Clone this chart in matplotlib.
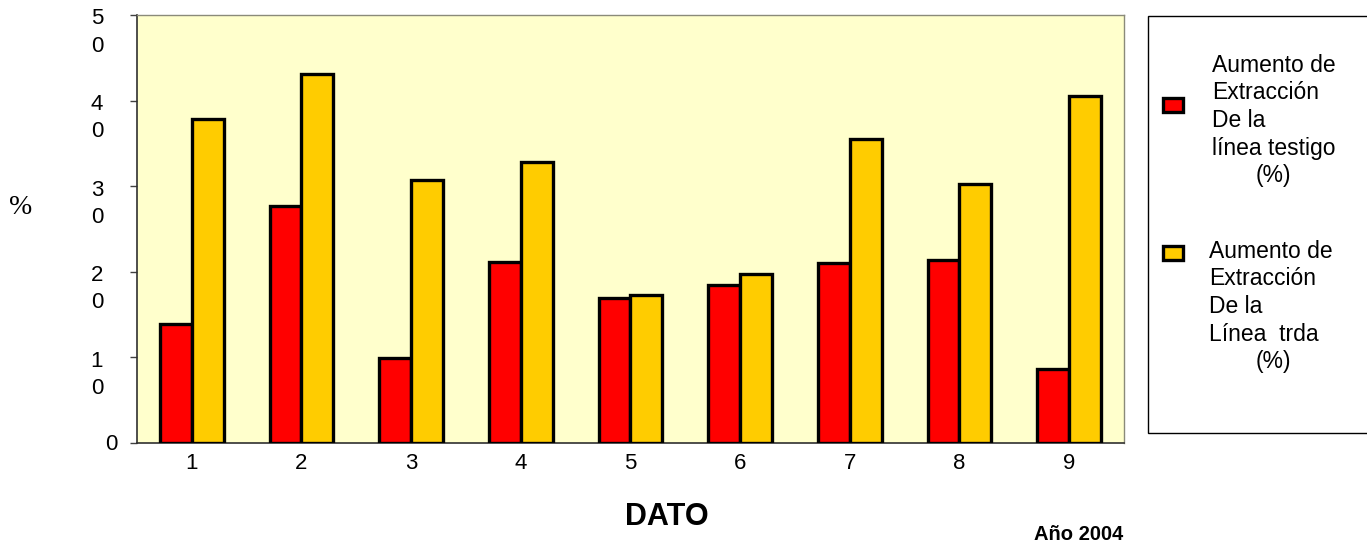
import matplotlib
matplotlib.use('Agg')
import matplotlib.pyplot as plt
from matplotlib.patches import Rectangle
from matplotlib.transforms import offset_copy

plt.rcParams['font.family'] = ['Liberation Sans', 'DejaVu Sans']

# data
datos = [1, 2, 3, 4, 5, 6, 7, 8, 9]
testigo = [13.9, 27.7, 9.9, 21.1, 16.9, 18.4, 21.0, 21.4, 8.7]
trda = [37.8, 43.1, 30.7, 32.8, 17.3, 19.7, 35.5, 30.2, 40.5]
y_ticks = [0, 10, 20, 30, 40, 50]

ROJO = '#FF0000'
AMARILLO = '#FFCC00'
FONDO = '#FFFFCC'

W, H = 1367, 544


def fx(px):
    return px / W


def fy(py):
    return 1 - py / H


fig = plt.figure(figsize=(W / 100, H / 100), dpi=100)
ax = fig.add_axes([fx(137), fy(443), (1124 - 137) / W, (443 - 15) / H])
ax.set_facecolor(FONDO)

bw = 0.29
xs = list(datos)
ax.bar([x - bw / 2 for x in xs], testigo, bw, color=ROJO, edgecolor='black', linewidth=2.4, zorder=3)
ax.bar([x + bw / 2 for x in xs], trda, bw, color=AMARILLO, edgecolor='black', linewidth=2.4, zorder=3)

ax.set_xlim(0.5, 9.5)
ax.set_ylim(0, 50)

ax.set_xticks(xs)
ax.set_xticklabels([str(d) for d in datos], fontsize=16)
ax.tick_params(axis='x', length=0, pad=7)

ax.set_yticks(y_ticks)
ax.set_yticklabels([])
ax.tick_params(axis='y', length=5, width=1, color='#404040', direction='out')

for side in ['left', 'bottom']:
    ax.spines[side].set_color('#303030')
    ax.spines[side].set_linewidth(1.2)
for side in ['top', 'right']:
    ax.spines[side].set_color('#8a8a7a')
    ax.spines[side].set_linewidth(1.0)

# y labels: two digits stacked one over the other
ytr = ax.get_yaxis_transform()
for v in y_ticks:
    if v == 0:
        ax.text(-19 / 987, v, '0', transform=offset_copy(ytr, fig, y=-2, units='dots'),
                ha='right', va='center', fontsize=16)
        continue
    s = str(v)
    for i, ch in enumerate(s):
        ax.text(-34 / 987, v, ch, transform=offset_copy(ytr, fig, y=-4 - 27 * i, units='dots'),
                ha='right', va='center', fontsize=16)

fig.text(fx(21), fy(207), '%', family=['Liberation Serif', 'DejaVu Serif'], fontsize=20,
         ha='center', va='center')

fig.text(fx(667), fy(517), 'DATO', fontsize=22, fontweight='bold', ha='center', va='center')
fig.text(fx(1079), fy(534), 'Año 2004', fontsize=14.5, fontweight='bold', ha='center', va='center')

# legend box
fig.add_artist(Rectangle((fx(1148), fy(433)), fx(1400 - 1148), (433 - 16) / H,
                         transform=fig.transFigure, facecolor='white', edgecolor='black',
                         linewidth=1, clip_on=False))

leyenda = [
    (ROJO, 105, 1212, 65, ['Aumento de', 'Extracción', 'De la', 'línea testigo', '(%)']),
    (AMARILLO, 253, 1209, 251, ['Aumento de', 'Extracción', 'De la', 'Línea  trda', '(%)']),
]
for color, py, tx, ty, lineas in leyenda:
    fig.add_artist(Rectangle((fx(1163), fy(py + 7)), fx(20), 14 / H,
                             transform=fig.transFigure, facecolor=color,
                             edgecolor='black', linewidth=2.4))
    for i, linea in enumerate(lineas):
        if linea == '(%)':
            fig.text(fx(1273), fy(ty + 27.7 * i), linea, fontsize=16.5, ha='center', va='center')
        else:
            fig.text(fx(tx), fy(ty + 27.7 * i), linea, fontsize=16.5, ha='left', va='center')

fig.savefig('out.png', dpi=100, facecolor='white')
